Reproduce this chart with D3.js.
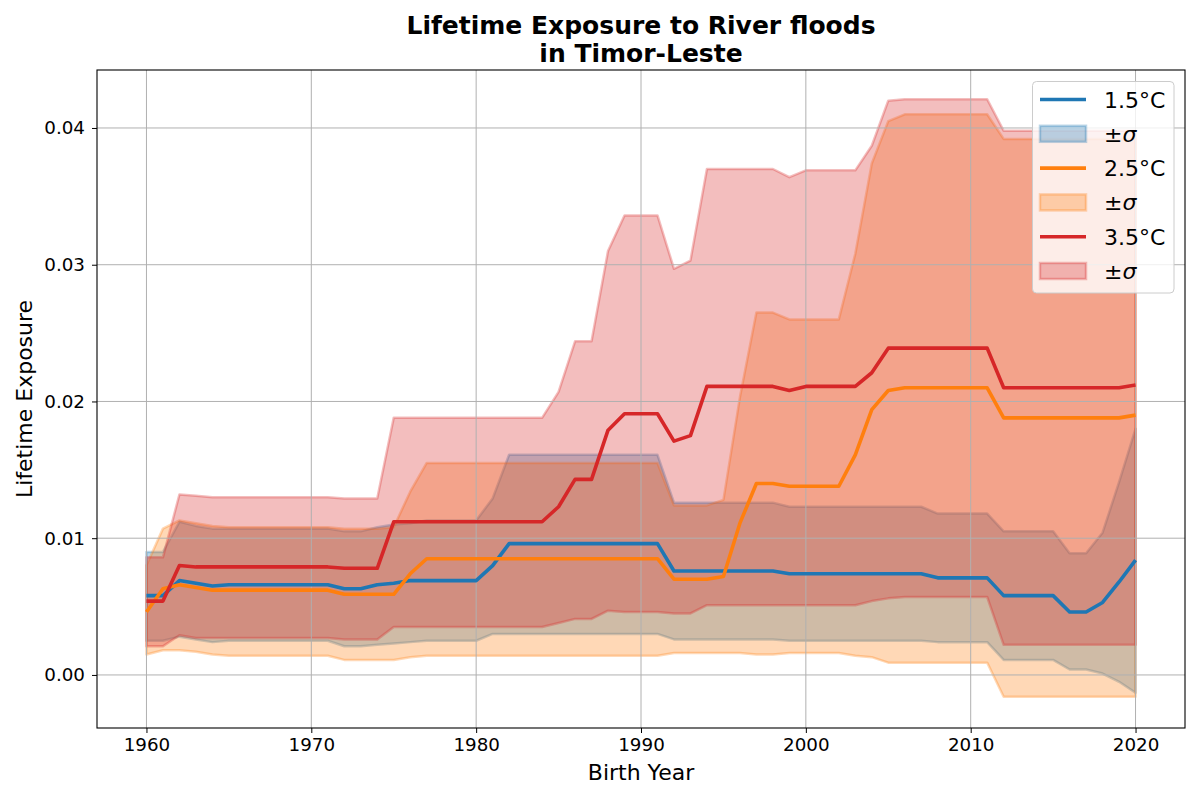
<!DOCTYPE html>
<html>
<head>
<meta charset="utf-8">
<script src="https://cdn.jsdelivr.net/npm/d3@7"></script>
<style>
  body { margin: 0; background: #fff; }
  svg { font-family: "DejaVu Sans", sans-serif; }
</style>
</head>
<body>
<svg id="chart" width="1200" height="800"></svg>
<script>
// birth years 1960..2020
const years = d3.range(1960, 2021);

// 1.5°C
const mean15 = [0.0058,0.0058,0.0069,0.0067,0.0065,0.0066,0.0066,0.0066,0.0066,0.0066,0.0066,0.0066,
  0.0063,0.0063,0.0066,0.0067,0.0069,0.0069,0.0069,0.0069,0.0069,0.0080,
  0.0096,0.0096,0.0096,0.0096,0.0096,0.0096,0.0096,0.0096,0.0096,0.0096,
  0.0076,0.0076,0.0076,0.0076,0.0076,0.0076,0.0076,
  0.0074,0.0074,0.0074,0.0074,0.0074,0.0074,0.0074,0.0074,0.0074,
  0.0071,0.0071,0.0071,0.0071,0.0058,0.0058,0.0058,0.0058,
  0.0046,0.0046,0.0053,0.0068,0.0084];
const upper15 = [0.0090,0.0090,0.0112,0.0109,0.0107,0.0107,0.0107,0.0107,0.0107,0.0107,0.0107,0.0107,
  0.0105,0.0105,0.0108,0.0110,0.0111,0.0113,0.0113,0.0113,0.0113,0.0129,
  0.0161,0.0161,0.0161,0.0161,0.0161,0.0161,0.0161,0.0161,0.0161,0.0161,
  0.0126,0.0126,0.0126,0.0126,0.0126,0.0126,0.0126,
  0.0123,0.0123,0.0123,0.0123,0.0123,0.0123,0.0123,0.0123,0.0123,
  0.0118,0.0118,0.0118,0.0118,0.0105,0.0105,0.0105,0.0105,
  0.0089,0.0089,0.0104,0.0141,0.0180];
const lower15 = [0.0025,0.0025,0.0028,0.0026,0.0024,0.0025,0.0025,0.0025,0.0025,0.0025,0.0025,0.0025,
  0.0021,0.0021,0.0022,0.0023,0.0024,0.0025,0.0025,0.0025,0.0025,0.0030,
  0.0030,0.0030,0.0030,0.0030,0.0030,0.0030,0.0030,0.0030,0.0030,0.0030,
  0.0026,0.0026,0.0026,0.0026,0.0026,0.0026,0.0026,
  0.0025,0.0025,0.0025,0.0025,0.0025,0.0025,0.0025,0.0025,0.0025,
  0.0024,0.0024,0.0024,0.0024,0.0011,0.0011,0.0011,0.0011,
  0.0004,0.0004,0.0001,-0.0005,-0.0013];

// 2.5°C
const mean25 = [0.0046,0.0063,0.0066,0.0064,0.0062,0.0062,0.0062,0.0062,0.0062,0.0062,0.0062,0.0062,
  0.0059,0.0059,0.0059,0.0059,0.0074,0.0085,0.0085,0.0085,0.0085,0.0085,
  0.0085,0.0085,0.0085,0.0085,0.0085,0.0085,0.0085,0.0085,0.0085,0.0085,
  0.0070,0.0070,0.0070,0.0072,0.0111,0.0140,0.0140,
  0.0138,0.0138,0.0138,0.0138,0.0161,0.0194,0.0208,0.0210,0.0210,
  0.0210,0.0210,0.0210,0.0210,0.0188,0.0188,0.0188,0.0188,
  0.0188,0.0188,0.0188,0.0188,0.0190];
const upper25 = [0.0080,0.0107,0.0113,0.0111,0.0109,0.0108,0.0108,0.0108,0.0108,0.0108,0.0108,0.0108,
  0.0107,0.0107,0.0107,0.0108,0.0134,0.0155,0.0155,0.0155,0.0155,0.0155,
  0.0155,0.0155,0.0155,0.0155,0.0155,0.0155,0.0155,0.0155,0.0155,0.0155,
  0.0124,0.0124,0.0124,0.0128,0.0203,0.0265,0.0265,
  0.0260,0.0260,0.0260,0.0260,0.0308,0.0374,0.0405,0.0410,0.0410,
  0.0410,0.0410,0.0410,0.0410,0.0392,0.0392,0.0392,0.0392,
  0.0392,0.0392,0.0392,0.0392,0.0392];
const lower25 = [0.0015,0.0018,0.0018,0.0017,0.0015,0.0014,0.0014,0.0014,0.0014,0.0014,0.0014,0.0014,
  0.0011,0.0011,0.0011,0.0011,0.0013,0.0014,0.0014,0.0014,0.0014,0.0014,
  0.0014,0.0014,0.0014,0.0014,0.0014,0.0014,0.0014,0.0014,0.0014,0.0014,
  0.0016,0.0016,0.0016,0.0016,0.0016,0.0015,0.0015,
  0.0016,0.0016,0.0016,0.0016,0.0014,0.0013,0.0009,0.0009,0.0009,
  0.0009,0.0009,0.0009,0.0009,-0.0016,-0.0016,-0.0016,-0.0016,
  -0.0016,-0.0016,-0.0016,-0.0016,-0.0016];

// 3.5°C
const mean35 = [0.0054,0.0054,0.0080,0.0079,0.0079,0.0079,0.0079,0.0079,0.0079,0.0079,0.0079,0.0079,
  0.0078,0.0078,0.0078,0.0112,0.0112,0.0112,0.0112,0.0112,0.0112,0.0112,
  0.0112,0.0112,0.0112,0.0123,0.0143,0.0143,0.0179,0.0191,0.0191,0.0191,
  0.0171,0.0175,0.0211,0.0211,0.0211,0.0211,0.0211,
  0.0208,0.0211,0.0211,0.0211,0.0211,0.0221,0.0239,0.0239,0.0239,
  0.0239,0.0239,0.0239,0.0239,0.0210,0.0210,0.0210,0.0210,
  0.0210,0.0210,0.0210,0.0210,0.0212];
const upper35 = [0.0086,0.0086,0.0132,0.0131,0.0130,0.0130,0.0130,0.0130,0.0130,0.0130,0.0130,0.0130,
  0.0129,0.0129,0.0129,0.0188,0.0188,0.0188,0.0188,0.0188,0.0188,0.0188,
  0.0188,0.0188,0.0188,0.0207,0.0244,0.0244,0.0310,0.0336,0.0336,0.0336,
  0.0297,0.0303,0.0370,0.0370,0.0370,0.0370,0.0370,
  0.0364,0.0369,0.0369,0.0369,0.0369,0.0387,0.0420,0.0421,0.0421,
  0.0421,0.0421,0.0421,0.0421,0.0398,0.0398,0.0398,0.0398,
  0.0398,0.0398,0.0398,0.0398,0.0398];
const lower35 = [0.0021,0.0021,0.0029,0.0027,0.0027,0.0027,0.0027,0.0027,0.0027,0.0027,0.0027,0.0027,
  0.0026,0.0026,0.0026,0.0035,0.0035,0.0035,0.0035,0.0035,0.0035,0.0035,
  0.0035,0.0035,0.0035,0.0038,0.0041,0.0041,0.0047,0.0046,0.0046,0.0046,
  0.0045,0.0045,0.0051,0.0051,0.0051,0.0051,0.0051,
  0.0051,0.0051,0.0051,0.0051,0.0051,0.0054,0.0056,0.0057,0.0057,
  0.0057,0.0057,0.0057,0.0057,0.0022,0.0022,0.0022,0.0022,
  0.0022,0.0022,0.0022,0.0022,0.0022];

const scenarioNames = ["1.5°C", "2.5°C", "3.5°C"];
const colors = ["#1f77b4", "#ff7f0e", "#d62728"];
const xTicks = [1960, 1970, 1980, 1990, 2000, 2010, 2020];
const yTicks = [0.00, 0.01, 0.02, 0.03, 0.04];

const series = [
  { name: scenarioNames[0], color: colors[0], mean: mean15, lo: lower15, hi: upper15 },
  { name: scenarioNames[1], color: colors[1], mean: mean25, lo: lower25, hi: upper25 },
  { name: scenarioNames[2], color: colors[2], mean: mean35, lo: lower35, hi: upper35 }
];

const plotL = 97, plotR = 1185, plotT = 70, plotB = 728;

const x = d3.scaleLinear().domain([1957, 2023]).range([plotL, plotR]);
const y = d3.scaleLinear().domain([-0.00388, 0.04424]).range([plotB, plotT]);

const svg = d3.select("#chart");

svg.append("rect").attr("width", 1200).attr("height", 800).attr("fill", "#fff");

svg.append("clipPath").attr("id", "plotclip")
  .append("rect").attr("x", plotL).attr("y", plotT)
  .attr("width", plotR - plotL).attr("height", plotB - plotT);

const bands = svg.append("g").attr("clip-path", "url(#plotclip)");

// bands first (matplotlib puts collections under lines)
const area = d3.area()
  .x((d, i) => x(years[i]))
  .y0(d => y(d[0]))
  .y1(d => y(d[1]));

series.forEach(s => {
  const pts = years.map((yr, i) => [s.lo[i], s.hi[i]]);
  bands.append("path")
    .attr("d", area(pts))
    .attr("fill", s.color)
    .attr("fill-opacity", 0.3)
    .attr("stroke", s.color)
    .attr("stroke-opacity", 0.3)
    .attr("stroke-width", 2.5)
    .attr("stroke-linejoin", "round");
});

// grid above the bands, under the lines
const grid = svg.append("g");
grid.selectAll(".gx").data(xTicks).enter().append("line")
  .attr("x1", d => x(d)).attr("x2", d => x(d))
  .attr("y1", plotT).attr("y2", plotB)
  .attr("stroke", "#b0b0b0").attr("stroke-width", 1);
grid.selectAll(".gy").data(yTicks).enter().append("line")
  .attr("x1", plotL).attr("x2", plotR)
  .attr("y1", d => y(d)).attr("y2", d => y(d))
  .attr("stroke", "#b0b0b0").attr("stroke-width", 1);

const line = d3.line()
  .x((d, i) => x(years[i]))
  .y(d => y(d));

const lines = svg.append("g").attr("clip-path", "url(#plotclip)");
series.forEach(s => {
  lines.append("path")
    .attr("d", line(s.mean))
    .attr("fill", "none")
    .attr("stroke", s.color)
    .attr("stroke-width", 3.6)
    .attr("stroke-linejoin", "round");
});

// axes
const xAxis = d3.axisBottom(x).tickValues(xTicks).tickFormat(d3.format("d")).tickSizeOuter(0).tickSize(5).tickPadding(5);
const yAxis = d3.axisLeft(y).tickValues(yTicks).tickFormat(d3.format(".2f")).tickSizeOuter(0).tickSize(5).tickPadding(7);

const gx = svg.append("g").attr("transform", `translate(0,${plotB})`).call(xAxis);
const gy = svg.append("g").attr("transform", `translate(${plotL},0)`).call(yAxis);
[gx, gy].forEach(g => {
  g.select(".domain").remove();
  g.selectAll("text").attr("font-size", 18.3).attr("fill", "#000").attr("font-family", "DejaVu Sans");
  g.selectAll("line").attr("stroke", "#000").attr("stroke-width", 1);
});

svg.append("rect")
  .attr("x", plotL).attr("y", plotT)
  .attr("width", plotR - plotL).attr("height", plotB - plotT)
  .attr("fill", "none").attr("stroke", "#000").attr("stroke-width", 1.1);

// labels
svg.append("text")
  .attr("x", (plotL + plotR) / 2).attr("y", 780)
  .attr("text-anchor", "middle").attr("font-size", 22)
  .text("Birth Year");

svg.append("text")
  .attr("transform", `translate(32,${(plotT + plotB) / 2}) rotate(-90)`)
  .attr("text-anchor", "middle").attr("font-size", 22)
  .text("Lifetime Exposure");

const title = svg.append("text")
  .attr("text-anchor", "middle").attr("font-size", 25).attr("font-weight", "bold");
title.append("tspan").attr("x", (plotL + plotR) / 2).attr("y", 34).text("Lifetime Exposure to River floods");
title.append("tspan").attr("x", (plotL + plotR) / 2).attr("y", 62).text("in Timor-Leste");

// legend
const lg = svg.append("g");
lg.append("rect")
  .attr("x", 1032.5).attr("y", 81.5).attr("width", 141.5).attr("height", 211.5)
  .attr("rx", 4).attr("fill", "#fff").attr("fill-opacity", 0.8)
  .attr("stroke", "#cccccc").attr("stroke-width", 1);

series.forEach((s, i) => {
  const rowLine = 99.5 + i * 68.6;
  const rowPatch = rowLine + 34.3;
  lg.append("line")
    .attr("x1", 1040).attr("x2", 1086)
    .attr("y1", rowLine).attr("y2", rowLine)
    .attr("stroke", s.color).attr("stroke-width", 3.6);
  lg.append("text")
    .attr("x", 1104).attr("y", rowLine + 8)
    .attr("font-size", 22).text(s.name);
  lg.append("rect")
    .attr("x", 1040).attr("y", rowPatch - 8).attr("width", 46).attr("height", 16)
    .attr("fill", s.color).attr("fill-opacity", 0.3)
    .attr("stroke", s.color).attr("stroke-opacity", 0.3).attr("stroke-width", 2.5);
  const t = lg.append("text")
    .attr("x", 1104).attr("y", rowPatch + 8)
    .attr("font-size", 22);
  t.append("tspan").text("±");
  t.append("tspan").attr("font-style", "italic").text("σ");
});
</script>
</body>
</html>
